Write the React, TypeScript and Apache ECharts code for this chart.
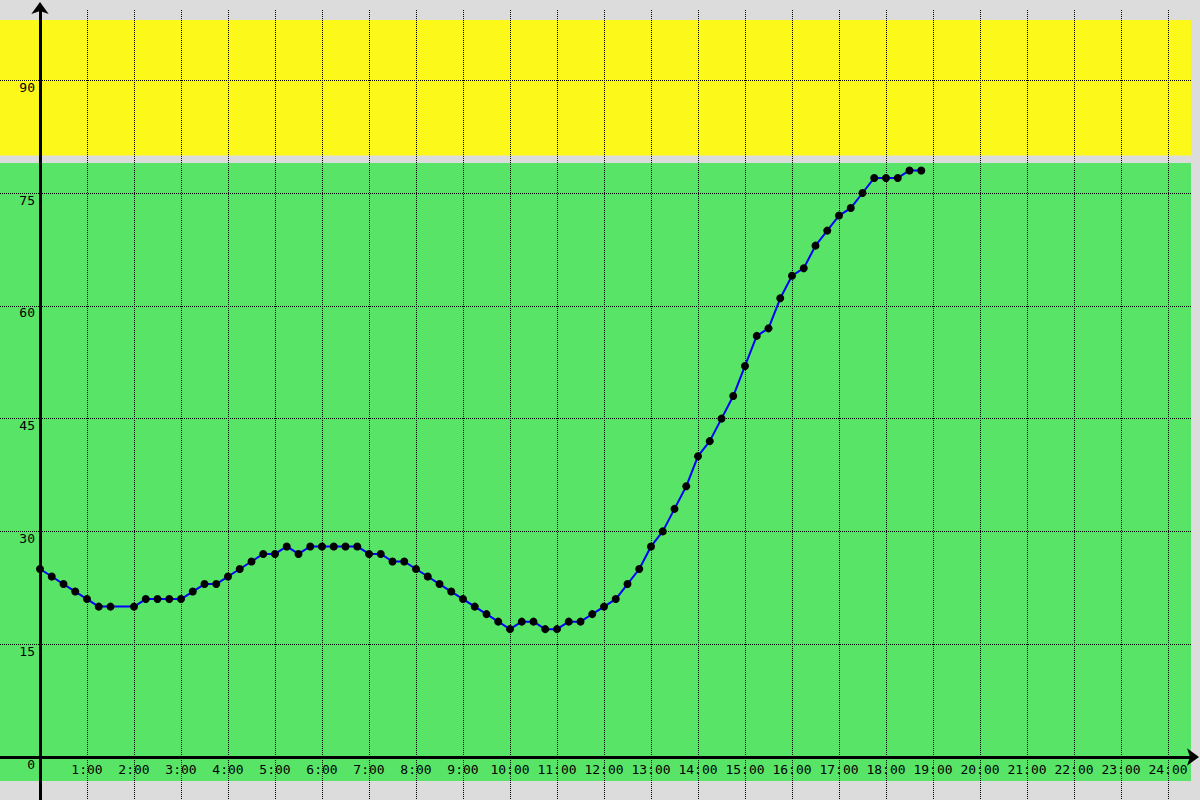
import React, { useEffect, useRef } from "react";
import * as echarts from "echarts";

const times = [
  "0:00", "0:15", "0:30", "0:45", "1:00", "1:15", "1:30", "2:00", "2:15", "2:30", "2:45",
  "3:00", "3:15", "3:30", "3:45", "4:00", "4:15", "4:30", "4:45", "5:00", "5:15", "5:30", "5:45",
  "6:00", "6:15", "6:30", "6:45", "7:00", "7:15", "7:30", "7:45", "8:00", "8:15", "8:30", "8:45",
  "9:00", "9:15", "9:30", "9:45", "10:00", "10:15", "10:30", "10:45", "11:00", "11:15", "11:30", "11:45",
  "12:00", "12:15", "12:30", "12:45", "13:00", "13:15", "13:30", "13:45", "14:00", "14:15", "14:30", "14:45",
  "15:00", "15:15", "15:30", "15:45", "16:00", "16:15", "16:30", "16:45", "17:00", "17:15", "17:30", "17:45",
  "18:00", "18:15", "18:30", "18:45",
];
const values = [
  25, 24, 23, 22, 21, 20, 20, 20, 21, 21, 21,
  21, 22, 23, 23, 24, 25, 26, 27, 27, 28, 27, 28,
  28, 28, 28, 28, 27, 27, 26, 26, 25, 24, 23, 22,
  21, 20, 19, 18, 17, 18, 18, 17, 17, 18, 18, 19,
  20, 21, 23, 25, 28, 30, 33, 36, 40, 42, 45, 48,
  52, 56, 57, 61, 64, 65, 68, 70, 72, 73, 75, 77,
  77, 77, 78, 78,
];
const xTickValues = [1, 2, 3, 4, 5, 6, 7, 8, 9, 10, 11, 12, 13, 14, 15, 16, 17, 18, 19, 20, 21, 22, 23, 24];
const yLabelValues = [0, 15, 30, 45, 60, 75, 90];
const yGridValues = [15, 30, 45, 60, 75, 90];
const bandFrom = [80, -3.2];
const bandTo = [98, 79];
const bandColors = ["#fbf81a", "#58e466"];

const toHours = (t: string) => {
  const [h, m] = t.split(":").map(Number);
  return h + m / 60;
};

export default function App() {
  const ref = useRef<HTMLDivElement>(null);
  useEffect(() => {
    const chart = echarts.init(ref.current as HTMLDivElement, null, { renderer: "svg" });
    const font = { color: "#000", fontFamily: "DejaVu Sans Mono", fontSize: 13 };
    const axisLine = {
      show: true,
      onZero: false,
      symbol: ["none", "arrow"],
      symbolSize: [13, 12],
      symbolOffset: [0, 8],
      lineStyle: { color: "#000", width: 3 },
    };
    chart.setOption({
      animation: false,
      backgroundColor: "#dcdcdc",
      grid: { left: 0, right: 9, top: 10, bottom: 0, containLabel: false, outerBoundsMode: "none" },
      xAxis: {
        type: "value",
        position: "bottom",
        offset: -43,
        min: -40 / 47,
        max: 1151 / 47,
        z: 3,
        axisLine,
        axisTick: { show: false, customValues: xTickValues },
        axisLabel: {
          ...font,
          customValues: xTickValues,
          formatter: (v: number) => `${v}:00`,
          margin: 6,
        },
        splitLine: { show: true, lineStyle: { type: "dotted", color: "#000", width: 1 } },
      },
      yAxis: {
        type: "value",
        position: "left",
        offset: -40,
        min: -43 / 7.52,
        max: 747 / 7.52,
        z: 3,
        axisLine,
        axisTick: { show: false, customValues: yGridValues },
        axisLabel: {
          ...font,
          customValues: yLabelValues,
          verticalAlign: "top",
          lineHeight: 14,
          margin: 5,
        },
        splitLine: { show: true, lineStyle: { type: "dotted", color: "#000", width: 1 } },
      },
      series: [
        {
          type: "line",
          z: 5,
          data: times.map((t, i) => [toHours(t), values[i]]),
          symbol: "circle",
          symbolSize: 8,
          showAllSymbol: true,
          itemStyle: { color: "#000" },
          lineStyle: { color: "#0000ff", width: 2 },
          markArea: {
            silent: true,
            z: 1,
            data: bandFrom.map((f, i) => [
              { yAxis: f, itemStyle: { color: bandColors[i], opacity: 1 } },
              { yAxis: bandTo[i] },
            ]),
          },
        },
      ],
    });
    return () => chart.dispose();
  }, []);
  return <div ref={ref} style={{ position: "absolute", left: 0, top: 0, width: 1200, height: 800 }} />;
}
